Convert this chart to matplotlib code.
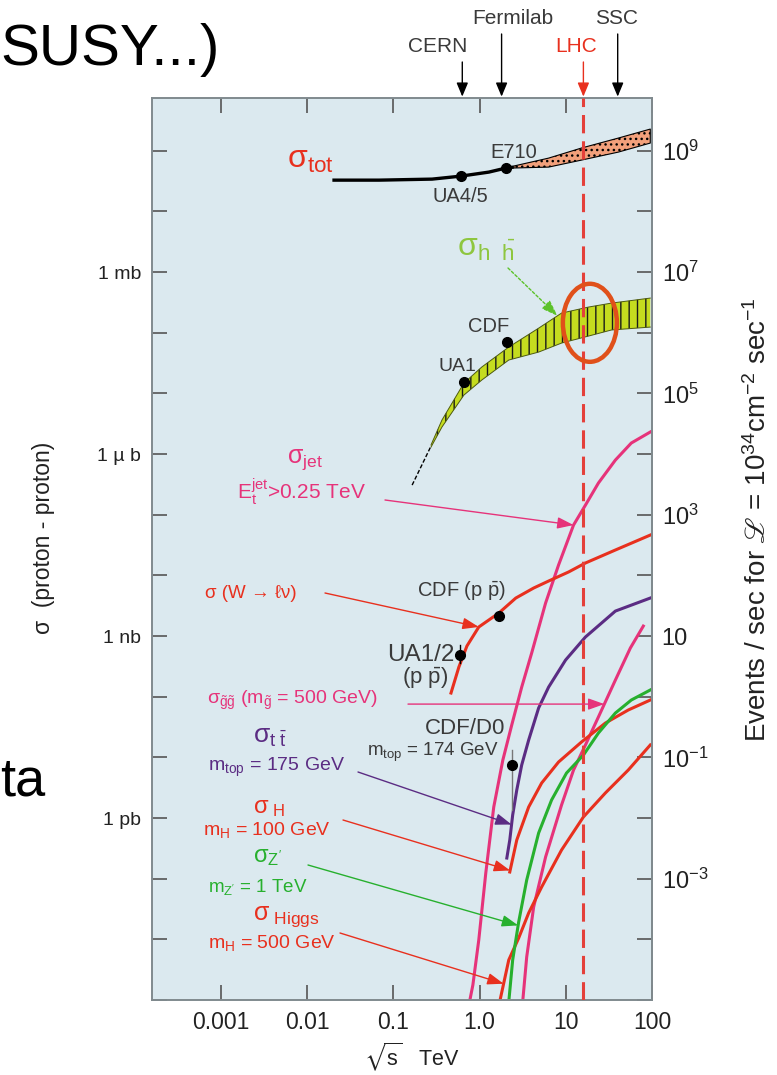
import numpy as np
import matplotlib.pyplot as plt
from matplotlib.patches import Ellipse
from matplotlib.ticker import NullLocator

plt.rcParams['font.family'] = ['Liberation Sans', 'DejaVu Sans']
plt.rcParams['mathtext.fontset'] = 'custom'
plt.rcParams['mathtext.rm'] = 'Liberation Sans'
plt.rcParams['mathtext.it'] = 'Liberation Sans'
plt.rcParams['mathtext.bf'] = 'Liberation Sans:bold'
plt.rcParams['mathtext.fallback'] = 'stixsans'
plt.rcParams['hatch.linewidth'] = 1.0

# sqrt(s) in TeV, cross sections in mb
tot_x = [0.0196, 0.0684, 0.281, 0.607, 1.28, 2.01, 2.49]
tot_y = [32.8, 32.8, 34.1, 38.2, 44.5, 51.8, 53.8]
tot_band_x = [2.49, 6.32, 15.2, 40.7, 95.5]
tot_band_hi = [56.0, 75.7, 111.0, 162.0, 228.0]
tot_band_lo = [52.0, 53.8, 70.2, 95.1, 134.0]

hh_x = [0.273, 0.366, 0.658, 1.06, 2.18, 4.84, 8.93, 18.3, 33.8, 95.5]
hh_hi = [1.41e-3, 3.64e-3, 0.0148, 0.0272, 0.0581, 0.119, 0.211, 0.265, 0.308, 0.373]
hh_lo = [1.30e-3, 2.79e-3, 9.39e-3, 0.0166, 0.0355, 0.048, 0.0676, 0.0881, 0.111, 0.124]
hh_tail_x = [0.165, 0.273]
hh_tail_y = [3.08e-4, 1.35e-3]

jet_x = [0.752, 0.836, 0.979, 1.18, 1.46, 1.86, 2.36, 3.08, 4.02, 5.83, 8.24,
         12.3, 16.9, 23.9, 37.6, 57.5, 95.5]
jet_y = [8.3e-13, 1.77e-12, 9.8e-12, 1.24e-10, 1.52e-9, 9.0e-9, 3.41e-8, 1.44e-7,
         5.25e-7, 3.50e-6, 1.48e-5, 6.76e-5, 1.44e-4, 3.33e-4, 7.96e-4, 1.52e-3, 2.31e-3]

w_x = [0.466, 0.575, 0.713, 0.979, 1.67, 2.63, 4.24, 6.32, 10.8, 16.9, 37.6, 95.5]
w_y = [1.15e-7, 3.08e-7, 6.85e-7, 1.41e-6, 2.39e-6, 4.23e-6, 6.19e-6, 8.07e-6,
       1.14e-5, 1.60e-5, 2.62e-5, 4.62e-5]

top_x = [2.07, 2.24, 2.42, 2.70, 3.08, 3.71, 4.84, 6.32, 9.94, 16.9, 37.6, 95.5]
top_y = [2.19e-10, 4.34e-10, 1.12e-9, 2.90e-9, 7.48e-9, 1.93e-8, 6.51e-8, 1.44e-7,
         4.02e-7, 9.64e-7, 2.58e-6, 4.23e-6]

gl_x = [3.16, 3.52, 4.24, 5.83, 8.93, 12.3, 16.9, 23.9, 37.6, 56.1, 79.3]
gl_y = [9.3e-13, 5.12e-12, 3.42e-11, 2.28e-10, 1.64e-9, 6.19e-9, 1.60e-8, 4.63e-8,
        1.88e-7, 6.35e-7, 1.46e-6]

zp_x = [2.18, 2.42, 2.84, 3.52, 4.84, 6.84, 10.2, 16.0, 23.9, 37.6, 57.5, 95.5]
zp_y = [9.3e-13, 4.57e-12, 1.93e-11, 9.5e-11, 5.66e-10, 1.98e-9, 5.52e-9, 1.09e-8,
        2.52e-8, 5.38e-8, 8.81e-8, 1.29e-7]

h100_x = [2.24, 2.70, 3.71, 5.25, 8.24, 15.2, 28.8, 53.1, 95.5]
h100_y = [1.29e-10, 4.34e-10, 1.52e-9, 3.78e-9, 8.38e-9, 1.79e-8, 3.68e-8, 6.04e-8, 8.81e-8]

h500_x = [1.71, 2.18, 2.84, 3.71, 5.25, 8.93, 16.0, 28.8, 53.1, 95.5]
h500_y = [9.3e-13, 4.57e-12, 1.05e-11, 2.72e-11, 7.30e-11, 2.97e-10, 1.04e-9,
          2.59e-9, 6.19e-9, 1.60e-8]

# measurements
tot_meas_x = [0.607, 2.01]
tot_meas_y = [38.2, 51.8]
hh_meas_x = [0.658, 2.06]
hh_meas_y = [0.0154, 0.0702]
w_meas_x = [0.592, 1.67]
w_meas_y = [4.87e-7, 2.14e-6]
w_ua_err = [3.59e-7, 7.11e-7]
top_meas_x = [2.37]
top_meas_y = [7.48e-9]
top_meas_err = [1.36e-9, 1.32e-8]

colliders = ['CERN', 'Fermilab', 'LHC', 'SSC']
collider_tev = [0.63, 1.8, 16.0, 40.0]

x_ticks = [1e-3, 1e-2, 1e-1, 1.0, 10.0, 100.0]
x_labels = ['0.001', '0.01', '0.1', '1.0', '10', '100']
sigma_labels = {0: '1 mb', -3: '1 \u00b5 b', -6: '1 nb', -9: '1 pb'}
rate_labels = {9: '$10^{9}$', 7: '$10^{7}$', 5: '$10^{5}$', 3: '$10^{3}$',
               1: '10', -1: '$10^{-1}$', -3: '$10^{-3}$'}
lumi = 1e34   # cm^-2 s^-1
mb = 1e-27    # cm^2

RED = '#e8301e'
PINK = '#e6337a'
PURPLE = '#5b2c83'
GREEN = '#27b02e'
LIME = '#8ec63f'
GRAY = '#3a3a3a'

W, H = 777, 1075


def fpx(x, y):
    return x / W, 1 - y / H


def at(xs, ys, x):
    return 10 ** np.interp(np.log10(x), np.log10(xs), np.log10(ys))


fig = plt.figure(figsize=(W / 100, H / 100), dpi=100)
ax = fig.add_axes([152 / W, 75 / H, 500 / W, 902 / H])
ax.set_facecolor('#dbe9ef')
ax.set_xscale('log')
ax.set_yscale('log')
ax.set_xlim(10 ** -3.80, 10 ** 1.98)
ax.set_ylim(1e-12, 10 ** 2.87)

# sigma_tot
ax.plot(tot_x, tot_y, color='black', lw=2.4, solid_capstyle='butt')
ax.fill_between(tot_band_x, tot_band_lo, tot_band_hi, facecolor='#f2a07b',
                edgecolor='black', hatch='...', linewidth=0.8)

# heavy-flavour band
ax.plot(hh_tail_x, hh_tail_y, color='black', lw=1, ls=(0, (3, 1.5)))
ax.fill_between(hh_x, hh_lo, hh_hi, facecolor='#c5dc1f', edgecolor='none')
ax.fill_between(hh_x, hh_lo, hh_hi, facecolor='none', edgecolor='#1a1a1a',
                hatch='||', linewidth=0)
ax.plot(hh_x, hh_hi, color='#4d5a10', lw=0.7)
ax.plot(hh_x, hh_lo, color='#4d5a10', lw=0.7)

for xs, ys, c in [(jet_x, jet_y, PINK), (w_x, w_y, RED), (top_x, top_y, PURPLE),
                  (gl_x, gl_y, PINK), (h100_x, h100_y, RED), (h500_x, h500_y, RED),
                  (zp_x, zp_y, GREEN)]:
    ax.plot(xs, ys, color=c, lw=2.2)

# data points
ax.plot([w_meas_x[0]] * 2, w_ua_err, color='black', lw=1)
ax.plot([top_meas_x[0]] * 2, top_meas_err, color='#777777', lw=1)
for xs, ys in [(tot_meas_x, tot_meas_y), (hh_meas_x, hh_meas_y),
               (w_meas_x, w_meas_y), (top_meas_x, top_meas_y)]:
    ax.plot(xs, ys, 'o', color='black', ms=7, zorder=5)

# LHC energy
lhc = collider_tev[2]
ax.axvline(lhc, color='#e4403a', lw=2.2, dashes=(6, 2.6), zorder=6)
yc = np.sqrt(at(hh_x, hh_hi, lhc) * at(hh_x, hh_lo, lhc))
cx, cy = ax.transAxes.inverted().transform(ax.transData.transform((lhc, yc)))
ax.add_patch(Ellipse((cx + 0.01, cy), 0.108, 0.0865, transform=ax.transAxes,
                     fill=False, edgecolor='#e0501a', lw=3.2, zorder=7))

# axes and ticks
for s in ax.spines.values():
    s.set_color('#808a8e')
    s.set_linewidth(1.4)
ax.set_xticks(x_ticks, labels=x_labels)
ax.xaxis.set_minor_locator(NullLocator())
dec = list(range(-12, 3))
ax.set_yticks([10.0 ** k for k in dec], labels=[sigma_labels.get(k, '') for k in dec])
ax.yaxis.set_minor_locator(NullLocator())
ax.tick_params(axis='x', which='both', direction='in', length=11, width=1.2,
               color='#555555', top=True, labelsize=16.5, pad=8, labelcolor='#222222')
ax.tick_params(axis='y', which='both', direction='in', length=11, width=1.2,
               color='#555555', right=False, labelsize=14, pad=8, labelcolor='#222222')

sec = ax.secondary_yaxis('right', functions=(lambda s: s * mb * lumi,
                                             lambda r: r / (mb * lumi)))
rdec = list(range(-5, 10))
sec.set_yticks([10.0 ** k for k in rdec], labels=[rate_labels.get(k, '') for k in rdec])
sec.yaxis.set_minor_locator(NullLocator())
sec.tick_params(direction='in', length=11, width=1.2, color='#555555',
                labelsize=17, pad=7, labelcolor='#222222')
sec.spines['right'].set_color('#808a8e')
sec.spines['right'].set_linewidth(1.4)

fig.text(*fpx(412, 1057), r'$\sqrt{s}$   TeV', fontsize=15.5, ha='center', va='center',
         color='#222222')
fig.text(*fpx(44, 538), '\u03c3  (proton - proton)', fontsize=16.5, rotation=90,
         ha='center', va='center', color='#222222')
fig.text(*fpx(758, 520), 'Events / sec for $\u2112$ = $10^{34}$cm$^{-2}$ sec$^{-1}$',
         fontsize=20, rotation=90, ha='center', va='center', color='#222222')

# colliders along the top
label_pos = {'CERN': (438, 47), 'Fermilab': (513, 19), 'LHC': (576, 47), 'SSC': (617, 19)}
for name, e in zip(colliders, collider_tev):
    c = RED if name == 'LHC' else 'black'
    lx, ly = label_pos[name]
    fig.text(*fpx(lx, ly), name, fontsize=15, ha='center', va='center',
             color=RED if name == 'LHC' else GRAY)
    ax.annotate('', xy=(e, 1.0), xycoords=('data', 'axes fraction'),
                xytext=(e, fpx(0, ly + 15)[1]), textcoords=('data', 'figure fraction'),
                arrowprops=dict(arrowstyle='-|>,head_length=0.6,head_width=0.25',
                                color=c, lw=1, mutation_scale=14, shrinkA=0, shrinkB=1),
                annotation_clip=False)

# curve labels
labels = [
    ('\u03c3$_{\\rm tot}$', 287, 160, RED, 23),
    ('E710', 490, 152, GRAY, 14.5),
    ('UA4/5', 432, 197, GRAY, 14.5),
    ('\u03c3$_{\\rm h\\ \\ \\bar{h}}$', 457, 248, LIME, 23),
    ('CDF', 468, 327, GRAY, 14.5),
    ('UA1', 438, 367, GRAY, 14),
    ('\u03c3$_{\\rm jet}$', 287, 460, PINK, 18),
    ('E$_{\\rm t}^{\\rm jet}$>0.25 TeV', 237, 492, PINK, 15),
    ('\u03c3 (W \u2192 \u2113\u03bd)', 205, 593, RED, 13.5),
    ('CDF (p $\\bar{\\rm p}$)', 417, 590, GRAY, 14.5),
    ('UA1/2', 387, 655, GRAY, 17.5),
    ('(p $\\bar{\\rm p}$)', 402, 678, GRAY, 16),
    ('\u03c3$_{\\tilde{\\rm g}\\tilde{\\rm g}}$ (m$_{\\tilde{\\rm g}}$ = 500 GeV)', 207, 700, PINK, 14),
    ('\u03c3$_{\\rm t\\ \\bar{t}}$', 253, 737, PURPLE, 19),
    ('m$_{\\rm top}$ = 175 GeV', 208, 767, PURPLE, 14),
    ('CDF/D0', 425, 728, GRAY, 16),
    ('m$_{\\rm top}$ = 174 GeV', 367, 752, GRAY, 13.5),
    ('\u03c3$_{\\ \\rm H}$', 253, 808, RED, 17),
    ('m$_{\\rm H}$ = 100 GeV', 203, 830, RED, 14),
    ("\u03c3$_{\\rm Z'}$", 253, 857, GREEN, 17),
    ("m$_{\\rm Z'}$ = 1 TeV", 208, 887, GREEN, 13.5),
    ('\u03c3$_{\\ \\rm Higgs}$', 253, 917, RED, 18),
    ('m$_{\\rm H}$ = 500 GeV', 208, 943, RED, 14),
]
for txt, lx, ly, c, fs in labels:
    fig.text(*fpx(lx, ly), txt, color=c, fontsize=fs, ha='left', va='center')

# leader arrows from labels to curves
leaders = [
    ((508, 268), hh_x, hh_hi, 8.0, '#5cc22a', (0, (2, 1.5))),
    ((385, 500), jet_x, jet_y, 12.3, PINK, '-'),
    ((325, 593), w_x, w_y, 0.98, RED, '-'),
    ((358, 772), top_x, top_y, 2.35, PURPLE, '-'),
    ((343, 820), h100_x, h100_y, 2.26, RED, '-'),
    ((308, 865), zp_x, zp_y, 2.8, GREEN, '-'),
    ((340, 933), h500_x, h500_y, 1.9, RED, '-'),
]
for (sx, sy), xs, ys, xt, c, ls in leaders:
    ax.annotate('', xy=(xt, at(xs, ys, xt)), xytext=fpx(sx, sy),
                textcoords='figure fraction',
                arrowprops=dict(arrowstyle='-|>,head_length=0.7,head_width=0.25',
                                color=c, lw=1, ls=ls, mutation_scale=14,
                                shrinkA=0, shrinkB=0), zorder=8)
# horizontal leader for the gluino pair
gy = at(gl_x, gl_y, 28.0)
ax.annotate('', xy=(28.0, gy), xytext=(fpx(408, 0)[0], gy),
            textcoords=('figure fraction', 'data'),
            arrowprops=dict(arrowstyle='-|>,head_length=0.7,head_width=0.25',
                            color=PINK, lw=1, mutation_scale=14, shrinkA=0, shrinkB=0),
            zorder=8)

# slide text around the figure
fig.text(*fpx(0, 50), 'SUSY...)', fontsize=42, ha='left', va='center', color='black')
fig.text(*fpx(0, 782), 'ta', fontsize=39, ha='left', va='center', color='black')

fig.savefig('out.png', dpi=100)
